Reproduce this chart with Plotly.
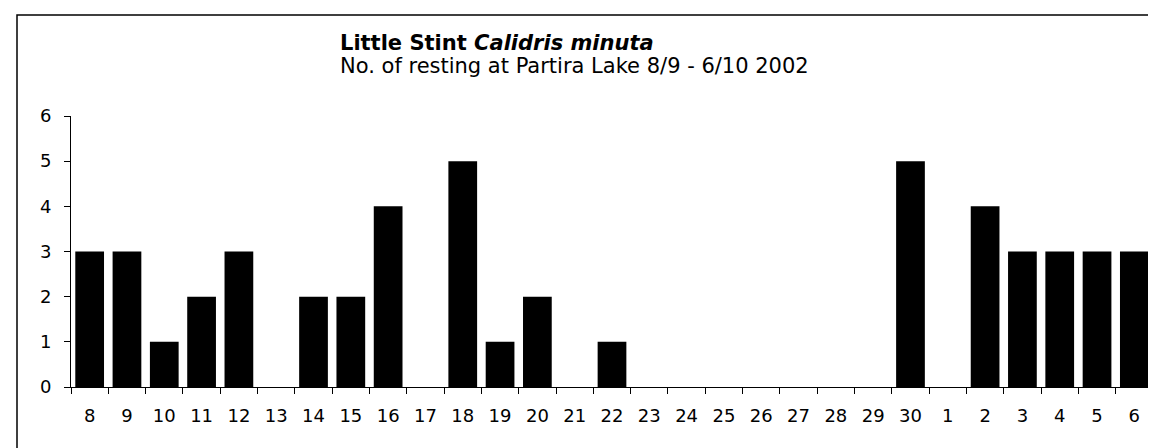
import plotly.graph_objects as go

days = ["8", "9", "10", "11", "12", "13", "14", "15", "16", "17", "18", "19", "20",
        "21", "22", "23", "24", "25", "26", "27", "28", "29", "30",
        "1", "2", "3", "4", "5", "6"]
counts = [3, 3, 1, 2, 3, 0, 2, 2, 4, 0, 5, 1, 2,
          0, 1, 0, 0, 0, 0, 0, 0, 0, 5,
          0, 4, 3, 3, 3, 3]
y_ticks = [0, 1, 2, 3, 4, 5, 6]

title_main = "Little Stint"
title_latin = "Calidris minuta"
title_sub = "No. of resting at Partira Lake 8/9 - 6/10 2002"

W, H = 1156, 448
L, R, T, B = 63, 11, 108, 69
pw, ph = W - L - R, H - T - B

def px(x):
    return (x - L) / pw

def py(y):
    # y measured in pixels from the top of the page
    return (H - B - y) / ph

FONT = "DejaVu Sans"

fig = go.Figure(go.Bar(
    x=days, y=counts,
    marker=dict(color="black", line=dict(width=0)),
))

fig.update_layout(
    width=W, height=H,
    margin=dict(l=L, r=R, t=T, b=B),
    paper_bgcolor="white", plot_bgcolor="white",
    bargap=0.23,
    showlegend=False,
    font=dict(family=FONT, size=18, color="black"),
    xaxis=dict(
        type="category", showgrid=False, zeroline=False,
        showline=True, linecolor="black", linewidth=1,
        ticks="outside", ticklen=6, tickcolor="black", tickwidth=1,
        tickson="boundaries", ticklabelstandoff=12,
        tickfont=dict(family=FONT, size=18, color="black"),
    ),
    yaxis=dict(
        range=[0, 6], tickvals=y_ticks, showgrid=False, zeroline=False,
        showline=True, linecolor="black", linewidth=1,
        ticks="outside", ticklen=6, tickcolor="black", tickwidth=1,
        ticklabelstandoff=9,
        tickfont=dict(family=FONT, size=18, color="black"),
    ),
    shapes=[dict(
        type="rect", xref="paper", yref="paper",
        x0=px(9), x1=px(1170), y0=py(470), y1=py(7),
        line=dict(color="black", width=1.5), fillcolor="rgba(0,0,0,0)",
        layer="above",
    )],
    annotations=[
        dict(
            xref="paper", yref="paper", x=px(330), y=py(35),
            xanchor="left", yanchor="middle", align="left", showarrow=False,
            text=f"<b>{title_main} <i>{title_latin}</i></b>",
            font=dict(family=FONT, size=21, color="black"),
        ),
        dict(
            xref="paper", yref="paper", x=px(330), y=py(58),
            xanchor="left", yanchor="middle", align="left", showarrow=False,
            text=title_sub,
            font=dict(family=FONT, size=21, color="black"),
        ),
    ],
)

fig.write_html("out.html")
